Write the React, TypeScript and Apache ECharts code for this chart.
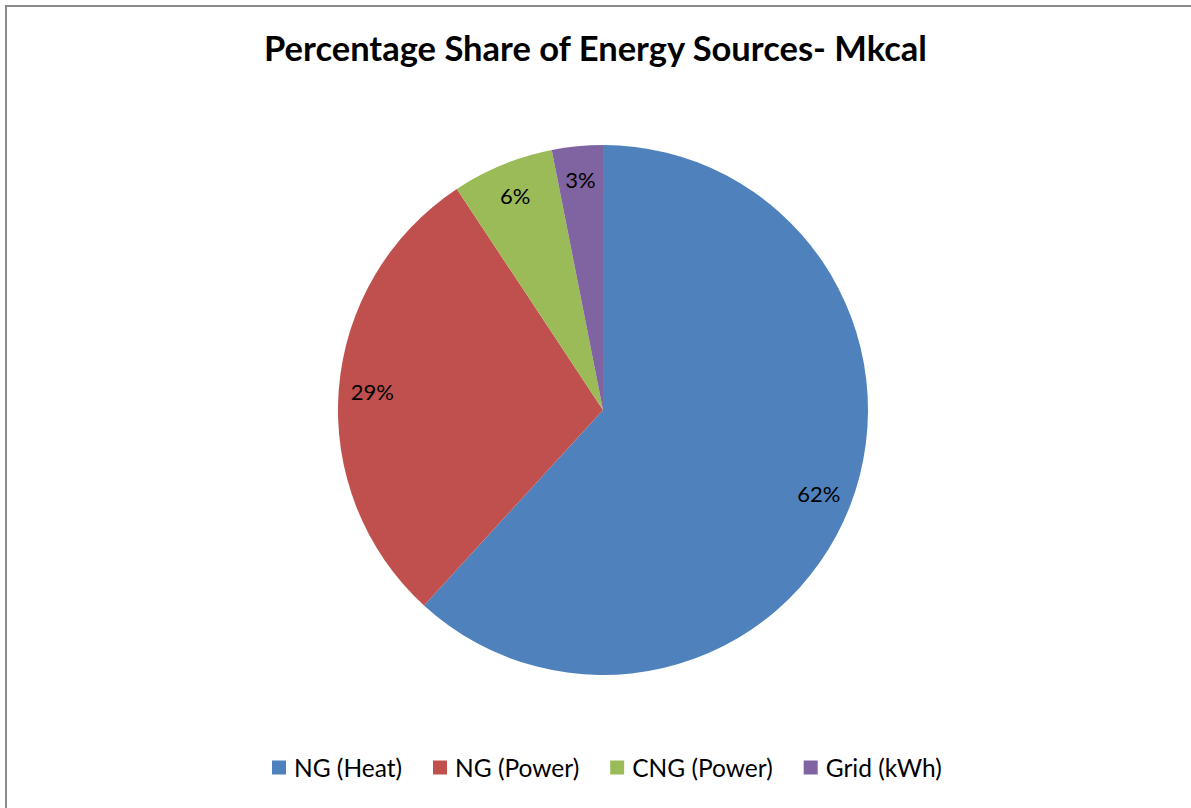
import React, { useEffect, useRef } from "react";
import * as echarts from "echarts";

const categories = ["NG (Heat)", "NG (Power)", "CNG (Power)", "Grid (kWh)"];
const shares = [61.8, 28.9, 6.2, 3.1];
const colors = ["#4F81BD", "#C0504D", "#9BBB59", "#8064A2"];
const titleText = "Percentage Share of Energy Sources- Mkcal";

const FONT = "Lato, 'Open Sans', sans-serif";

export default function App() {
  const ref = useRef<HTMLDivElement>(null);
  useEffect(() => {
    document.body.style.margin = "0";
    const chart = echarts.init(ref.current!, null, { renderer: "svg" });
    const data = categories.map((name, i) => ({ name, value: shares[i], itemStyle: { color: colors[i] } }));
    chart.setOption({
      animation: false,
      backgroundColor: "#ffffff",
      title: {
        text: titleText,
        left: "center",
        top: 25,
        textStyle: { fontFamily: FONT, fontWeight: "bold", fontSize: 34.5, color: "#000" },
      },
      legend: {
        bottom: 23,
        left: 267,
        icon: "rect",
        itemWidth: 14,
        itemHeight: 14,
        itemGap: 31,
        textStyle: { fontFamily: FONT, fontSize: 24.5, color: "#000", padding: [0, 0, 0, 3] },
        data: categories,
      },
      graphic: [
        {
          type: "rect",
          shape: { x: 6, y: 6, width: 1200, height: 900 },
          style: { fill: "none", stroke: "#8a8a8a", lineWidth: 2 },
          silent: true,
        },
      ],
      series: [
        {
          type: "pie",
          center: [603, 410],
          radius: [0, 265],
          startAngle: 90,
          clockwise: true,
          data,
          label: { show: false },
          labelLine: { show: false },
          itemStyle: { borderColor: "#ffffff", borderWidth: 0 },
        },
        {
          type: "pie",
          center: [603, 410],
          radius: [192, 265],
          startAngle: 90,
          clockwise: true,
          silent: true,
          data: categories.map((name, i) => ({ name, value: shares[i], itemStyle: { color: "transparent" } })),
          label: {
            show: true,
            position: "inside",
            fontFamily: FONT,
            fontSize: 22,
            color: "#000",
            formatter: (p: any) => Math.round(p.percent) + "%",
          },
          labelLine: { show: false },
          legendHoverLink: false,
        },
      ],
    });
    return () => chart.dispose();
  }, []);
  return <div ref={ref} style={{ width: 1191, height: 808, position: "absolute", left: 0, top: 0 }} />;
}
